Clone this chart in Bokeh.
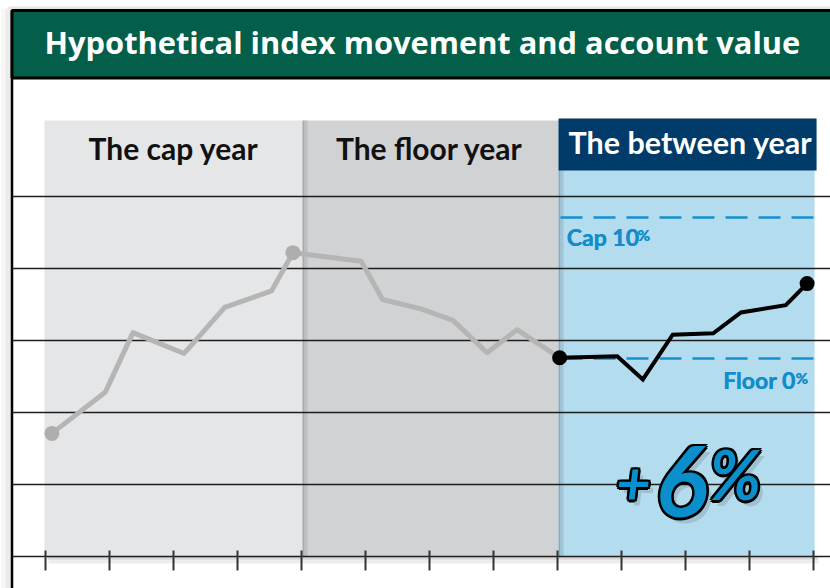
from bokeh.plotting import figure
from bokeh.models import Range1d
from bokeh.core.properties import value
from bokeh.embed import file_html
from bokeh.resources import INLINE

# ---------------- data ----------------
title_text = "Hypothetical index movement and account value"
years = ["The cap year", "The floor year", "The between year"]
year_starts = [0, 12, 24]
year_ends = [12, 24, 36]

months_cap = [0.3, 2.8, 4.1, 6.5, 8.4, 10.6, 11.6]
values_cap = [17.1, 22.8, 31.1, 28.2, 34.6, 36.9, 42.2]
months_floor = [11.6, 14.8, 15.8, 17.6, 19.1, 20.7, 22.1, 24.1]
values_floor = [42.2, 41.0, 35.7, 34.4, 32.8, 28.3, 31.5, 27.6]
months_between = [24.1, 26.8, 28.0, 29.4, 31.3, 32.6, 34.7, 35.7]
values_between = [27.6, 27.8, 24.6, 30.8, 31.0, 33.9, 34.9, 37.9]

cap_level = 47.1
floor_level = 27.5
cap_label = ["Cap 10", "%"]
floor_label = ["Floor 0", "%"]
result_label = ["+", "6", "%"]
grid_levels = [0, 10, 20, 30, 40, 50]
tick_months = list(range(0, 37, 3))

# ---------------- layout helpers (page pixels -> data) ----------------
XPM = 256 / 12.0
YPU = 7.2
def X(px):
    return (px - 45) / XPM
def Y(py):
    return (556 - py) / YPU
def DX(px):
    return px / XPM
def DY(py):
    return py / YPU

W, H = 830, 588
p = figure(width=W, height=H, x_range=Range1d(X(0), X(W)), y_range=Range1d(Y(H), Y(0)),
           output_backend="svg", toolbar_location=None, x_axis_type=None, y_axis_type=None,
           min_border=0, min_border_left=0, min_border_right=0, min_border_top=0, min_border_bottom=0)
p.grid.visible = False
p.outline_line_color = None
p.background_fill_color = "white"
p.border_fill_color = "white"

FONT = value("Lato")
TFONT = value("Open Sans")

# ---------------- outer frame shadow ----------------
p.quad(left=[X(1), X(5)], right=[X(5), X(10.5)], bottom=[Y(600), Y(600)], top=[Y(8), Y(8)],
       fill_color=["#f6f6f6", "#ebebeb"], line_color=None)
p.quad(left=[X(8)], right=[X(840)], bottom=[Y(9)], top=[Y(6)], fill_color=["#e6e6e6"], line_color=None)

# ---------------- panels ----------------
edges = [year_starts[0] - 0.05] + [e + 0.05 for e in year_ends]
panel_colors = ["#e5e6e8", "#d1d2d4", "#b3dcee"]
top_panel = Y(120)
# bottom shadow
p.quad(left=edges[0] + DX(4), right=edges[-1] + DX(4), bottom=-DY(7), top=0, fill_color="#ededed", line_color=None)
p.quad(left=edges[0] + DX(3), right=edges[-1] + DX(3), bottom=-DY(3), top=0, fill_color="#d6d6d6", line_color=None)
p.quad(left=edges[:-1], right=edges[1:], bottom=0, top=top_panel, fill_color=panel_colors, line_color=None)
# left edge shadows of panels 2 and 3
sh1 = ["#a9aaac", "#8aa9b8"]
sh2 = ["#bfc0c2", "#a2c5d6"]
p.quad(left=edges[1:3], right=[e + DX(2) for e in edges[1:3]], bottom=0, top=top_panel, fill_color=sh1, line_color=None)
p.quad(left=[e + DX(2) for e in edges[1:3]], right=[e + DX(5) for e in edges[1:3]], bottom=0, top=top_panel, fill_color=sh2, line_color=None)

# navy header for the between year
p.quad(left=[edges[2]], right=[edges[3] + DX(2)], bottom=[Y(170)], top=[Y(118)], fill_color="#003b69", line_color=None)

# ---------------- grid lines and ticks ----------------
p.segment(x0=X(12), x1=X(830), y0=grid_levels, y1=grid_levels, line_color="#1e1e1e", line_width=1.6)
p.segment(x0=tick_months, x1=tick_months, y0=Y(550), y1=Y(570), line_color="#333333", line_width=2)

# ---------------- frame and title bar ----------------
p.segment(x0=[X(11.5)], x1=[X(11.5)], y0=[Y(10)], y1=[Y(600)], line_color="black", line_width=2.5)
p.quad(left=[X(11.5)], right=[X(840)], top=[Y(10)], bottom=[Y(77.5)], fill_color="#035f49", line_color="black", line_width=3)
p.text(x=[X(44)], y=[Y(41.5)], text=[title_text], text_font=TFONT, text_font_style="bold",
       text_font_size="30.8px", text_color="white", text_align="left", text_baseline="middle")

# ---------------- panel headers ----------------
centers = [(s + e) / 2 for s, e in zip(year_starts, year_ends)]
p.text(x=centers[:2], y=[Y(147), Y(147)], text=years[:2], text_font=FONT, text_font_style="bold",
       text_font_size="30px", text_color="#111111", text_align="center", text_baseline="middle")
p.text(x=[centers[2] + DX(5)], y=[Y(141.5)], text=years[2:], text_font=FONT, text_font_style="bold",
       text_font_size="30.5px", text_color="white", text_align="center", text_baseline="middle")

# ---------------- cap / floor ----------------
dash_x0 = year_starts[2] + DX(3)
dash_x1 = year_ends[2] + DX(3)
p.segment(x0=[dash_x0, dash_x0], x1=[dash_x1, dash_x1], y0=[cap_level, floor_level], y1=[cap_level, floor_level],
          line_color="#1790d0", line_width=2.5, line_dash="22 11")
BLUE = "#128ccb"
for dx in (0, 0.5):
    p.text(x=[X(566 + dx)], y=[Y(236)], text=[cap_label[0]], text_font=FONT, text_font_style="bold",
           text_font_size="23px", text_color=BLUE, text_align="left", text_baseline="middle")
    p.text(x=[X(637 + dx)], y=[Y(234)], text=[cap_label[1]], text_font=FONT, text_font_style="bold",
           text_font_size="15px", text_color=BLUE, text_align="left", text_baseline="middle")
    p.text(x=[X(795 + dx)], y=[Y(379)], text=[floor_label[0]], text_font=FONT, text_font_style="bold",
           text_font_size="23px", text_color=BLUE, text_align="right", text_baseline="middle")
    p.text(x=[X(795 + dx)], y=[Y(377)], text=[floor_label[1]], text_font=FONT, text_font_style="bold",
           text_font_size="15px", text_color=BLUE, text_align="left", text_baseline="middle")

# ---------------- index lines ----------------
p.line(months_cap, values_cap, line_color="#b5b5b5", line_width=5, line_join="round")
p.line(months_floor, values_floor, line_color="#b5b5b5", line_width=5, line_join="round")
p.line(months_between, values_between, line_color="black", line_width=4, line_join="miter")
p.scatter([months_cap[0], months_cap[-1]], [values_cap[0], values_cap[-1]], size=15, fill_color="#aeaeae", line_color=None)
p.scatter([months_between[0], months_between[-1]], [values_between[0], values_between[-1]], size=15, fill_color="black", line_color=None)

# ---------------- +6% ----------------
rx = [X(633), X(681), X(735)]
ry = [Y(482), Y(481), Y(473)]
rs = ["60px", "98px", "68px"]
offsets = [(-2.5, 0), (2.5, 0), (0, -2.5), (0, 2.5), (-1.8, -1.8), (1.8, -1.8), (-1.8, 1.8), (1.8, 1.8)]
for t, x, y, s in zip(result_label, rx, ry, rs):
    p.text(x=[x + DX(5)], y=[y - DY(6)], text=[t], text_font=FONT, text_font_style="bold italic",
           text_font_size=s, text_color="black", text_alpha=0.12, text_align="center", text_baseline="middle")
    p.text(x=[x + DX(ox) for ox, oy in offsets], y=[y - DY(oy) for ox, oy in offsets], text=[t] * len(offsets),
           text_font=FONT, text_font_style="bold italic",
           text_font_size=s, text_color="black", text_align="center", text_baseline="middle")
    p.text(x=[x], y=[y], text=[t], text_font=FONT, text_font_style="bold italic",
           text_font_size=s, text_color="#0a8fcc", text_align="center", text_baseline="middle")

open("out.html", "w").write(file_html(p, INLINE))
